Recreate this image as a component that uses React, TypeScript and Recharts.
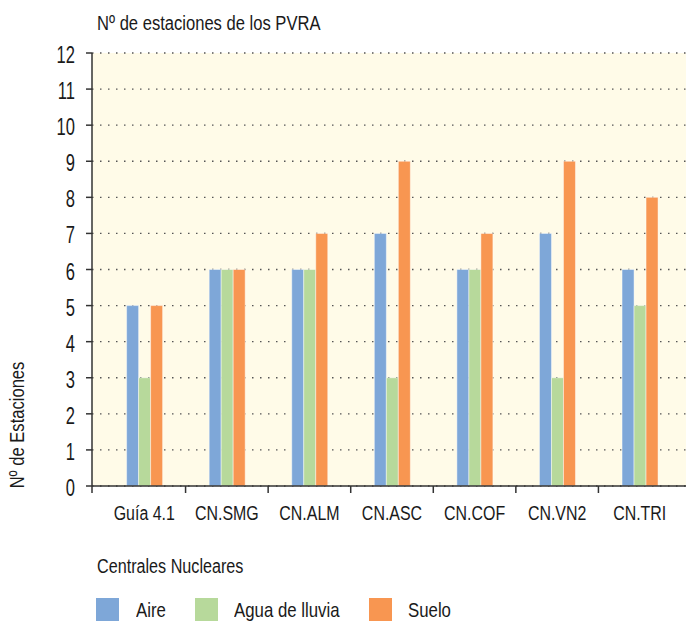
import React from "react";
import { BarChart, Bar, XAxis, YAxis, CartesianGrid, Legend } from "recharts";

const categories = ["Guía 4.1", "CN.SMG", "CN.ALM", "CN.ASC", "CN.COF", "CN.VN2", "CN.TRI"];
const aire = [5, 6, 6, 7, 6, 7, 6];
const aguaLluvia = [3, 6, 6, 3, 6, 3, 5];
const suelo = [5, 6, 7, 9, 7, 9, 8];
const yTicks = [0, 1, 2, 3, 4, 5, 6, 7, 8, 9, 10, 11, 12];

const seriesKeys = ["aire", "agua", "suelo"];
const seriesNames: Record<string, string> = { aire: "Aire", agua: "Agua de lluvia", suelo: "Suelo" };
const colors: Record<string, string> = { aire: "#7EA7D8", agua: "#B7D99B", suelo: "#F89651" };

const data = categories.map((c, i) => ({
  name: c,
  aire: aire[i],
  agua: aguaLluvia[i],
  suelo: suelo[i],
}));

const FONT = "'Liberation Sans', Arial, sans-serif";
const SX = 0.78;
const W = 688;
const H = 621;
const PLOT_LEFT = 92;
const PLOT_RIGHT = 686;
const PAD_L = 11;
const PAD_R = 5;
const BAND = (PLOT_RIGHT - PLOT_LEFT - PAD_L - PAD_R) / categories.length;
const AXIS = "#333";
const TXT = "#1a1a1a";

const CText = (props: any) => {
  const { x, y, anchor = "start", size = 21, sx = SX, rotate, dy, children } = props;
  const tr = `translate(${x},${y})${rotate ? ` rotate(${rotate})` : ""} scale(${sx},1)`;
  return (
    <text transform={tr} textAnchor={anchor} fontSize={size} fontFamily={FONT} fill={TXT} dy={dy}>
      {children}
    </text>
  );
};

const XTick = (props: any) => {
  const { x, y, payload, index } = props;
  const lx = index === 0 ? PLOT_LEFT : x - BAND / 2;
  return (
    <g>
      <line x1={lx} x2={lx} y1={y - 7} y2={y} stroke={AXIS} strokeWidth={1.5} />
      <CText x={x} y={y + 27} anchor="middle" size={21} sx={0.76}>
        {payload.value}
      </CText>
    </g>
  );
};

const YTick = (props: any) => {
  const { x, y, payload } = props;
  return (
    <CText x={x} y={y + 10} anchor="end" size={23} sx={0.72}>
      {payload.value}
    </CText>
  );
};

let measureCtx: CanvasRenderingContext2D | null = null;
const textWidth = (s: string, size: number) => {
  if (!measureCtx) {
    const c = document.createElement("canvas");
    measureCtx = c.getContext("2d");
  }
  if (!measureCtx) return s.length * size * 0.5;
  measureCtx.font = `${size}px ${FONT}`;
  return measureCtx.measureText(s).width;
};

const LegendContent = (props: any) => {
  const payload: any[] = props.payload || [];
  const ordered = seriesKeys
    .map((k) => payload.find((p) => p.dataKey === k))
    .filter(Boolean);
  return (
    <div style={{ position: "relative", height: 0, overflow: "visible" }}>
      <div
        style={{
          position: "absolute",
          left: 96,
          top: 0,
          display: "flex",
          alignItems: "center",
          fontFamily: FONT,
          fontSize: 21,
          lineHeight: "23px",
          color: TXT,
          whiteSpace: "nowrap",
        }}
      >
        {ordered.map((p: any) => {
          const w = textWidth(String(p.value), 21) * 0.8;
          return (
            <div key={p.value} style={{ display: "flex", alignItems: "center", marginRight: 29 }}>
              <div style={{ width: 23, height: 23, background: p.color, marginRight: 16.7 }} />
              <div style={{ width: w, height: 23, position: "relative" }}>
                <span
                  style={{
                    position: "absolute",
                    left: 0,
                    top: 0,
                    transform: "scaleX(0.8)",
                    transformOrigin: "left center",
                  }}
                >
                  {p.value}
                </span>
              </div>
            </div>
          );
        })}
      </div>
    </div>
  );
};

export default function App() {
  return (
    <div style={{ position: "absolute", left: 0, top: 0, width: W, height: H, background: "#fff" }}>
      <BarChart
        width={W}
        height={H}
        data={data}
        margin={{ top: 53, right: W - PLOT_RIGHT, left: 0, bottom: 0 }}
        barCategoryGap="28.6%"
        barGap={0}
      >
        <CartesianGrid
          vertical={false}
          fill="#FFFBE8"
          stroke="#555"
          strokeWidth={1.3}
          strokeDasharray="1.5 6.5"
        />
        <XAxis
          dataKey="name"
          height={135}
          interval={0}
          padding={{ left: PAD_L, right: PAD_R }}
          tickLine={false}
          tickSize={7}
          tickMargin={0}
          axisLine={{ stroke: AXIS, strokeWidth: 1.5 }}
          tick={<XTick />}
        />
        <YAxis
          width={PLOT_LEFT}
          domain={[0, 12]}
          ticks={yTicks}
          interval={0}
          tickSize={6}
          tickMargin={11}
          axisLine={{ stroke: AXIS, strokeWidth: 1.5 }}
          tickLine={{ stroke: AXIS, strokeWidth: 1.5 }}
          tick={<YTick />}
        />
        <Legend
          content={<LegendContent />}
          wrapperStyle={{ position: "absolute", left: 0, top: 598, width: W, height: 0 }}
        />
        {seriesKeys.map((k) => (
          <Bar
            key={k}
            dataKey={k}
            name={seriesNames[k]}
            fill={colors[k]}
            stroke="rgba(255,255,255,0.45)"
            strokeWidth={1}
            isAnimationActive={false}
          />
        ))}
      </BarChart>
      <svg
        width={W}
        height={H}
        style={{ position: "absolute", left: 0, top: 0, pointerEvents: "none" }}
      >
        <CText x={97} y={30} size={21} sx={0.79}>
          Nº de estaciones de los PVRA
        </CText>
        <CText x={24} y={425} size={21} sx={0.79} anchor="middle" rotate={-90}>
          Nº de Estaciones
        </CText>
        <CText x={97} y={573} size={21} sx={0.77}>
          Centrales Nucleares
        </CText>
      </svg>
    </div>
  );
}
